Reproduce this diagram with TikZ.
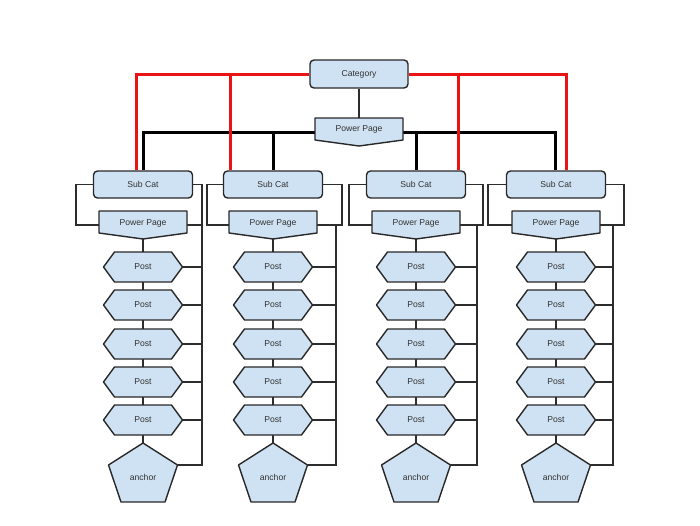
\documentclass[tikz,border=0pt]{standalone}
\usepackage{fontspec}
\setmainfont{Liberation Sans}
\usetikzlibrary{backgrounds,calc}
\definecolor{boxfill}{RGB}{207,226,243}
\definecolor{boxline}{RGB}{40,40,40}
\definecolor{connc}{RGB}{45,45,45}
\definecolor{txt}{RGB}{50,50,50}
\definecolor{redc}{RGB}{235,20,20}
\tikzset{
  lbl/.style={font=\fontsize{8.6}{10}\selectfont, text=txt, inner sep=0pt},
  rbox/.style={lbl, draw=boxline, fill=boxfill, line width=1.4pt, rounded corners=4pt, minimum width=99pt, minimum height=27pt},
  shapeline/.style={draw=boxline, fill=boxfill, line width=1.4pt, line join=round},
  conn/.style={draw=connc, line width=1.5pt},
  redline/.style={draw=redc, line width=3pt},
  blkline/.style={draw=black, line width=3pt},
  ppnode/.style={lbl, minimum width=88pt, minimum height=28pt, text height=6pt, text depth=6pt},
  postnode/.style={lbl, minimum width=79pt, minimum height=30pt},
  pppic/.pic={\path[shapeline] (-44,-14) -- (44,-14) -- (44,8) -- (0,14) -- (-44,8) -- cycle;},
  postpic/.pic={\path[shapeline] (-39.5,0) -- (-28.5,-15) -- (28.5,-15) -- (39.5,0) -- (28.5,15) -- (-28.5,15) -- cycle;},
  anchorpic/.pic={\path[shapeline] (0,-29.5) -- (34.5,-7.5) -- (22,29.5) -- (-22,29.5) -- (-34.5,-7.5) -- cycle;},
}
\begin{document}
\begin{tikzpicture}[x=1pt,y=-1pt]
\useasboundingbox (0,0) rectangle (700,525);
\node[rbox, minimum width=98pt, minimum height=28pt] (cat) at (359,74) {Category};
\pic at (359,132) {pppic};
\node[ppnode, text depth=8pt] (pp0) at (359,132) {Power Page};
\begin{scope}[on background layer]
  \draw[conn] (cat.south) -- (pp0.north);
\end{scope}
\foreach \i/\cx/\L/\Ro/\Ri in {1/143/76/202/202, 2/273/207/342/336, 3/416/349/483/477, 4/556/488/624/613} {
  \node[rbox] (sc\i) at (\cx,184.5) {Sub Cat};
  \pic at (\cx,225) {pppic};
  \node[ppnode] (pp\i) at (\cx,225) {Power Page};
  \coordinate (bl\i) at (\L,225);
  \coordinate (ro\i) at (\Ro,225);
  \coordinate (ri\i) at (\Ri,225);
  \coordinate (rb\i) at (\Ri,465);
  \foreach \j/\y in {1/267,2/305,3/344,4/382,5/420} {
    \pic at (\cx,\y) {postpic};
    \node[postnode] (po\i\j) at (\cx,\y) {Post};
    \begin{scope}[on background layer]
      \draw[conn] (po\i\j.east) -- (po\i\j.east -| ri\i);
    \end{scope}
  }
  \pic at (\cx,472.5) {anchorpic};
  \node[lbl] (an\i) at (\cx,477) {anchor};
  \coordinate (ant\i) at (\cx,443);
  \coordinate (anr\i) at (\cx+34.5,465);
  \begin{scope}[on background layer]
    \draw[conn] (sc\i.west) -| (bl\i) -- (pp\i.west);
    \draw[conn] (sc\i.east) -| (ro\i) -- (pp\i.east);
    \draw[conn] (ri\i) -- (rb\i) -- (anr\i);
    \draw[conn] (pp\i.south) -- (po\i1.north)
                (po\i1.south) -- (po\i2.north)
                (po\i2.south) -- (po\i3.north)
                (po\i3.south) -- (po\i4.north)
                (po\i4.south) -- (po\i5.north)
                (po\i5.south) -- (ant\i);
  \end{scope}
}
\begin{scope}[on background layer]
  \draw[blkline] (pp0.west) -| (sc1.north);
  \draw[blkline] (pp0.west -| sc2.north) -- (sc2.north);
  \draw[blkline] (pp0.east) -| ([xshift=-1pt]sc4.north);
  \draw[blkline] (pp0.east -| sc3.north) -- (sc3.north);
  \draw[redline] (cat.west) -| ([xshift=-6.5pt]sc1.north);
  \draw[redline] ([xshift=8pt]sc2.north west) |- (cat.west);
  \draw[redline] (cat.east) -| ([xshift=10pt]sc4.north);
  \draw[redline] ([xshift=-8pt]sc3.north east) |- (cat.east);
\end{scope}
\end{tikzpicture}
\end{document}
